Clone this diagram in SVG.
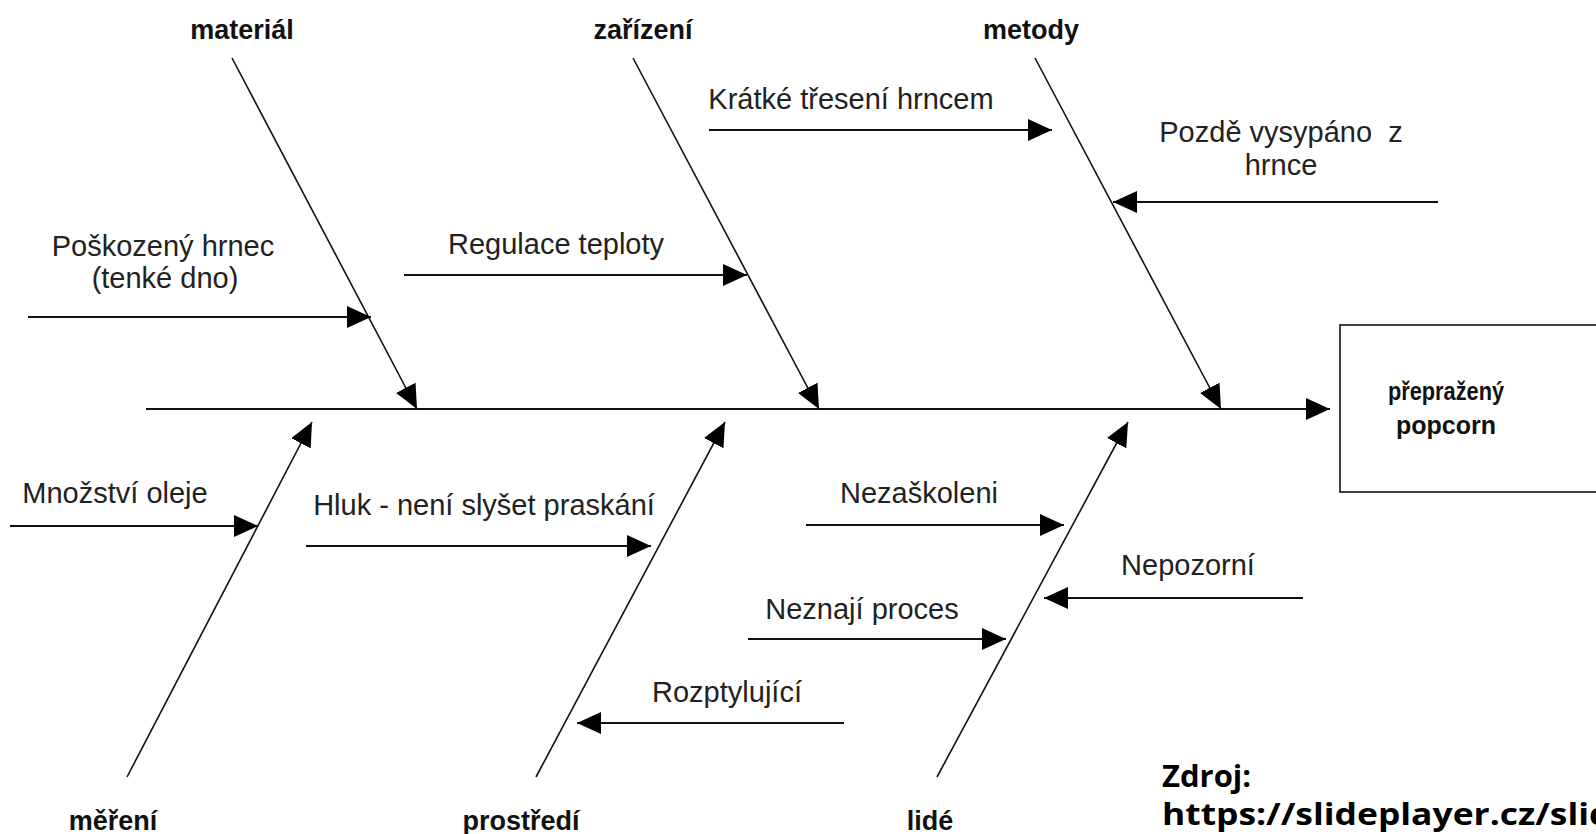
<svg xmlns="http://www.w3.org/2000/svg" width="1596" height="834" viewBox="0 0 1596 834">
  <defs>
    <marker id="ah" viewBox="0 0 24 22" markerUnits="userSpaceOnUse" markerWidth="24" markerHeight="22" refX="24" refY="11" orient="auto">
      <path d="M0,0 L24,11 L0,22 z" fill="#000"/>
    </marker>
    <style>
      .bone { stroke:#111; stroke-width:1.6; fill:none; marker-end:url(#ah); }
      .spine { stroke:#111; stroke-width:2; fill:none; marker-end:url(#ah); }
      .cause { stroke:#111; stroke-width:2.2; fill:none; marker-end:url(#ah); }
      .lbl { font-family:"Liberation Sans", Arial, sans-serif; font-weight:bold; font-size:27px; fill:#111; text-anchor:middle; }
      .txt { font-family:"Liberation Sans", Arial, sans-serif; font-size:29px; fill:#222; text-anchor:middle; }
      .res { font-family:"Liberation Sans", Arial, sans-serif; font-weight:bold; font-size:25px; fill:#111; text-anchor:middle; }
      .src { font-family:"Open Sans", "Noto Sans", sans-serif; font-weight:bold; font-size:31px; fill:#000; }
    </style>
  </defs>
  <rect width="1596" height="834" fill="#fff"/>

  <g id="connectors">
    <line class="spine" x1="146" y1="409" x2="1330" y2="409"/>
    <line class="bone" x1="232" y1="58" x2="417" y2="409"/>
    <line class="bone" x1="633" y1="58" x2="819" y2="409"/>
    <line class="bone" x1="1035" y1="58" x2="1221" y2="409"/>
    <line class="bone" x1="127" y1="777" x2="312" y2="422"/>
    <line class="bone" x1="536" y1="777" x2="725" y2="422"/>
    <line class="bone" x1="937" y1="777" x2="1128" y2="422"/>
    <line class="cause" x1="28" y1="317" x2="371" y2="317"/>
    <line class="cause" x1="404" y1="275" x2="747" y2="275"/>
    <line class="cause" x1="709" y1="130" x2="1052" y2="130"/>
    <line class="cause" x1="1438" y1="202" x2="1113" y2="202"/>
    <line class="cause" x1="10" y1="526" x2="258" y2="526"/>
    <line class="cause" x1="306" y1="546" x2="651" y2="546"/>
    <line class="cause" x1="806" y1="525" x2="1064" y2="525"/>
    <line class="cause" x1="1303" y1="598" x2="1044" y2="598"/>
    <line class="cause" x1="748" y1="639" x2="1006" y2="639"/>
    <line class="cause" x1="844" y1="723" x2="577" y2="723"/>
  </g>

  <g id="result">
    <rect x="1340" y="325" width="290" height="167" fill="#fff" stroke="#111" stroke-width="1.6"/>
    <text class="res" x="1446" y="400" textLength="116" lengthAdjust="spacingAndGlyphs">přepražený</text>
    <text class="res" x="1446" y="434">popcorn</text>
  </g>

  <g id="cat-material"><text class="lbl" x="242" y="39">materiál</text></g>
  <g id="cat-zarizeni"><text class="lbl" x="643" y="39">zařízení</text></g>
  <g id="cat-metody"><text class="lbl" x="1031" y="39">metody</text></g>
  <g id="cat-mereni"><text class="lbl" x="113" y="830">měření</text></g>
  <g id="cat-prostredi"><text class="lbl" x="521" y="830">prostředí</text></g>
  <g id="cat-lide"><text class="lbl" x="930" y="830">lidé</text></g>

  <g id="c-poskozeny">
    <text class="txt" x="163" y="256">Poškozený hrnec</text>
    <text class="txt" x="165" y="288">(tenké dno)</text>
  </g>
  <g id="c-regulace"><text class="txt" x="556" y="254">Regulace teploty</text></g>
  <g id="c-kratke"><text class="txt" x="851" y="109">Krátké třesení hrncem</text></g>
  <g id="c-pozde">
    <text class="txt" x="1281" y="142" xml:space="preserve">Pozdě vysypáno  z</text>
    <text class="txt" x="1281" y="175">hrnce</text>
  </g>
  <g id="c-mnozstvi"><text class="txt" x="115" y="503">Množství oleje</text></g>
  <g id="c-hluk"><text class="txt" x="484" y="515">Hluk - není slyšet praskání</text></g>
  <g id="c-nezaskoleni"><text class="txt" x="919" y="503">Nezaškoleni</text></g>
  <g id="c-nepozorni"><text class="txt" x="1188" y="575">Nepozorní</text></g>
  <g id="c-neznaji"><text class="txt" x="862" y="619">Neznají proces</text></g>
  <g id="c-rozptylujici"><text class="txt" x="727" y="702">Rozptylující</text></g>

  <g id="source">
    <text class="src" x="1162" y="787">Zdroj:</text>
    <text class="src" x="1162" y="825" textLength="485" lengthAdjust="spacingAndGlyphs">https://slideplayer.cz/slide/</text>
  </g>
</svg>
